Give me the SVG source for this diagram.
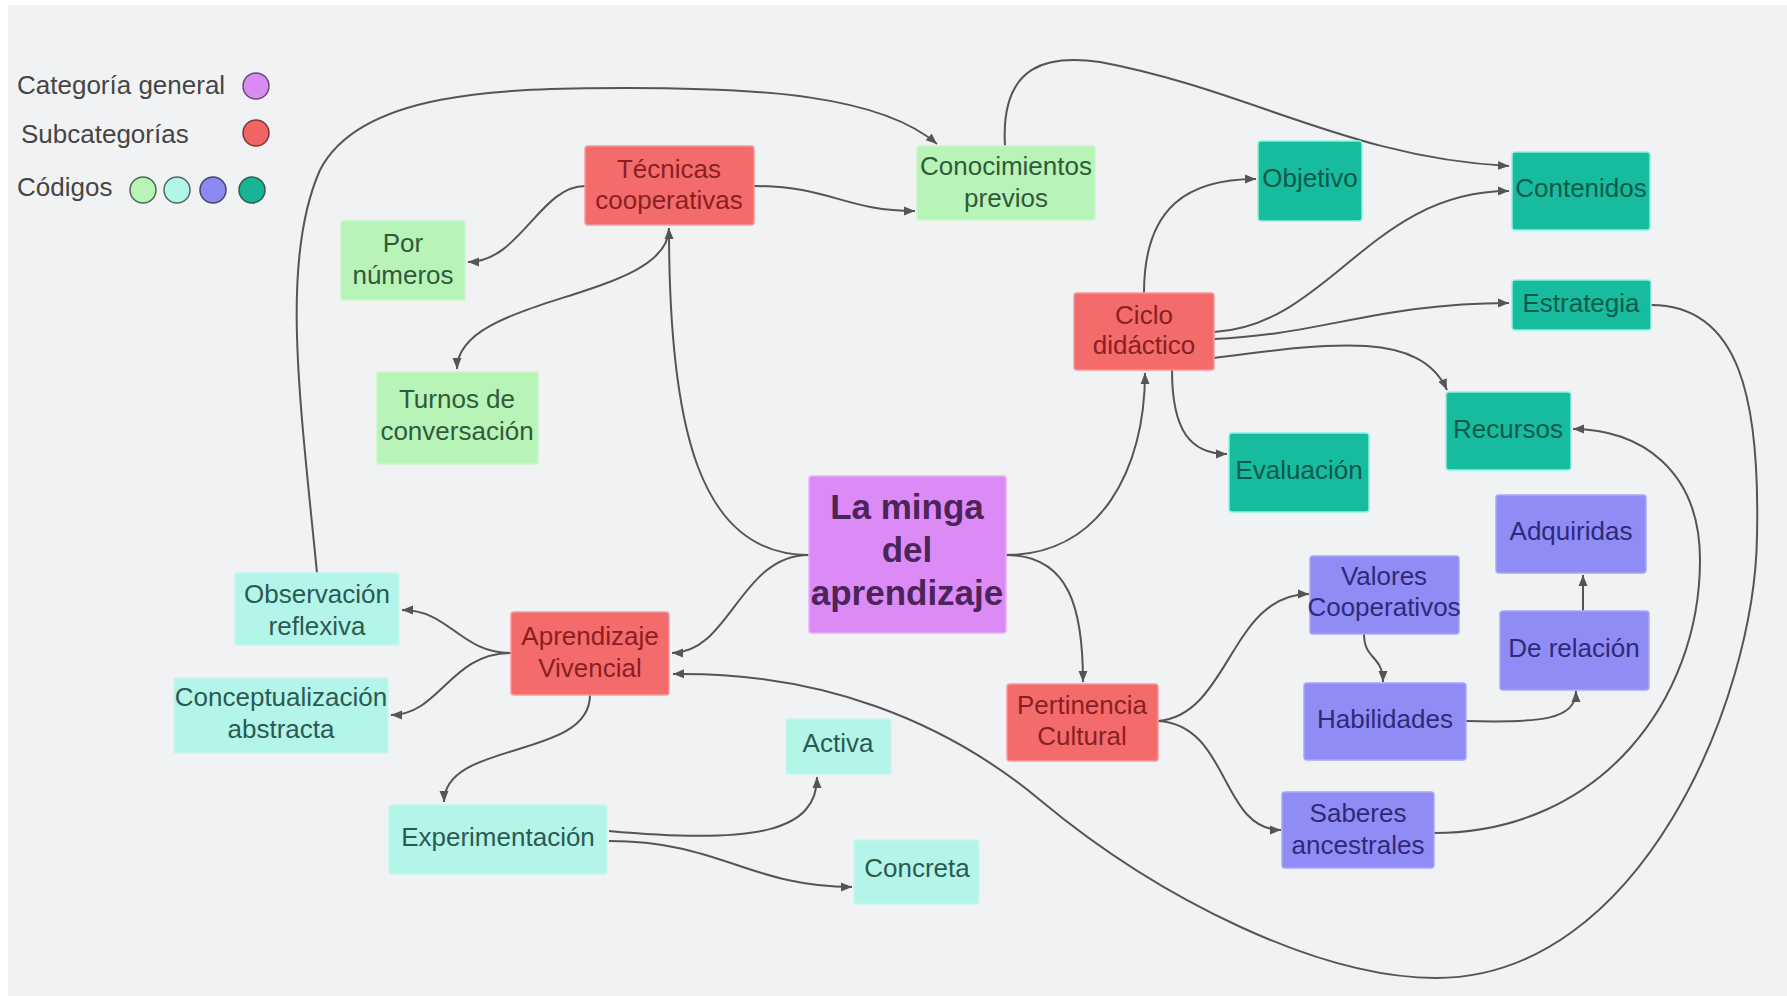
<svg xmlns="http://www.w3.org/2000/svg" width="1787" height="996" viewBox="0 0 1787 996">
<defs>
<marker id="ah" markerUnits="userSpaceOnUse" markerWidth="12" markerHeight="10" refX="11" refY="5" orient="auto">
<path d="M0,0.5 L11,5 L0,9.5 z" fill="#555"/>
</marker>
<style>
.bg{fill:#f1f2f4}
.lg{font-family:"Liberation Sans",Arial,sans-serif;font-size:26px;fill:#454545}
.t{font-family:"Liberation Sans",Arial,sans-serif;font-size:26px;text-anchor:middle}
.red rect{fill:#f46b6b;stroke:#f59a9a;stroke-width:1.5}
.red text{fill:#8a1f1f}
.grn rect{fill:#b8f3b8;stroke:#c8f7c8;stroke-width:1.5}
.grn text{fill:#2f5b3a}
.cyn rect{fill:#b3f5e8;stroke:#c4f8ee;stroke-width:1.5}
.cyn text{fill:#2b5a52}
.tea rect{fill:#17bb9e;stroke:#8ff2e2;stroke-width:1.5}
.tea text{fill:#0c5a4c}
.vio rect{fill:#8f8cf5;stroke:#a9a7f7;stroke-width:1.5}
.vio text{fill:#2e2a78}
.pur rect{fill:#dc8af6;stroke:#e8b0f9;stroke-width:1.5}
.pur text{fill:#4b2458;font-weight:bold;font-size:35px}
.c{fill:none;stroke:#555;stroke-width:2;marker-end:url(#ah)}
</style>
</defs>
<rect x="0" y="0" width="1787" height="996" fill="#ffffff"/>
<rect class="bg" x="8" y="5" width="1779" height="991"/>

<g id="legend">
<text class="lg" x="17" y="94">Categoría general</text>
<circle cx="256" cy="86" r="13" fill="#d98bf3" stroke="#6a4a73" stroke-width="1.5"/>
<text class="lg" x="21" y="143">Subcategorías</text>
<circle cx="256" cy="133" r="13" fill="#f06464" stroke="#7a3a3a" stroke-width="1.5"/>
<text class="lg" x="17" y="196">Códigos</text>
<circle cx="143" cy="190" r="13" fill="#b8f3b8" stroke="#4d6b4d" stroke-width="1.5"/>
<circle cx="177" cy="190" r="13" fill="#b3f5e8" stroke="#4d6b66" stroke-width="1.5"/>
<circle cx="213" cy="190" r="13" fill="#8c89f2" stroke="#46466e" stroke-width="1.5"/>
<circle cx="252" cy="190" r="13" fill="#17b596" stroke="#2d5e55" stroke-width="1.5"/>
</g>

<g id="connectors">
<path class="c" d="M809,555 C700,555 669,430 669,228"/>
<path class="c" d="M809,555 C740,555 730,653 672,653"/>
<path class="c" d="M1006,555 C1100,555 1145,470 1145,373"/>
<path class="c" d="M1006,555 C1070,555 1083,610 1083,682"/>
<path class="c" d="M585,186 C540,186 520,262 468,262"/>
<path class="c" d="M669,228 C669,300 457,295 457,369"/>
<path class="c" d="M754,186 C830,186 845,211 915,211"/>
<path class="c" d="M317,573 C300,400 280,260 320,170 C360,92 500,88 627,88 C760,88 880,95 937,144"/>
<path class="c" d="M1005,146 C1000,62 1050,55 1100,62 C1250,90 1350,158 1509,166"/>
<path class="c" d="M1144,293 C1144,205 1190,179 1256,179"/>
<path class="c" d="M1214,332 C1330,325 1370,191 1509,191"/>
<path class="c" d="M1214,339 C1320,335 1380,303 1509,303"/>
<path class="c" d="M1214,358 C1330,343 1420,330 1447,390"/>
<path class="c" d="M1172,370 C1172,430 1190,454 1227,454"/>
<path class="c" d="M1651,305 C1740,305 1760,400 1757,536 C1755,700 1640,978 1436,978 C1320,978 1160,900 1040,800 C944,720 820,672 673,674"/>
<path class="c" d="M511,653 C460,653 450,610 402,610"/>
<path class="c" d="M511,653 C450,653 440,715 391,715"/>
<path class="c" d="M590,695 C590,760 444,740 444,802"/>
<path class="c" d="M609,831 C760,845 817,830 817,777"/>
<path class="c" d="M609,841 C720,841 750,887 852,887"/>
<path class="c" d="M1158,721 C1230,715 1230,594 1309,594"/>
<path class="c" d="M1158,721 C1230,725 1220,830 1281,830"/>
<path class="c" d="M1364,634 C1364,660 1383,655 1383,682"/>
<path class="c" d="M1466,721 C1540,723 1576,720 1576,691"/>
<path class="c" d="M1583,611 L1583,575"/>
<path class="c" d="M1434,833 C1600,833 1700,700 1700,560 C1700,470 1640,429 1573,429"/>
</g>

<g id="n-tecnicas" class="red"><rect x="585" y="146" width="169" height="79" rx="3"/><text class="t" x="669" y="178">Técnicas</text><text class="t" x="669" y="209">cooperativas</text></g>
<g id="n-conocimientos" class="grn"><rect x="917" y="146" width="178" height="74" rx="3"/><text class="t" x="1006" y="175">Conocimientos</text><text class="t" x="1006" y="207">previos</text></g>
<g id="n-pornumeros" class="grn"><rect x="341" y="221" width="124" height="79" rx="2"/><text class="t" x="403" y="252">Por</text><text class="t" x="403" y="284">números</text></g>
<g id="n-turnos" class="grn"><rect x="377" y="372" width="161" height="92" rx="2"/><text class="t" x="457" y="408">Turnos de</text><text class="t" x="457" y="440">conversación</text></g>
<g id="n-objetivo" class="tea"><rect x="1258" y="141" width="104" height="80" rx="3"/><text class="t" x="1310" y="187">Objetivo</text></g>
<g id="n-contenidos" class="tea"><rect x="1512" y="152" width="138" height="78" rx="3"/><text class="t" x="1581" y="197">Contenidos</text></g>
<g id="n-estrategia" class="tea"><rect x="1512" y="280" width="139" height="50" rx="3"/><text class="t" x="1581" y="312">Estrategia</text></g>
<g id="n-ciclo" class="red"><rect x="1074" y="293" width="140" height="77" rx="3"/><text class="t" x="1144" y="324">Ciclo</text><text class="t" x="1144" y="354">didáctico</text></g>
<g id="n-recursos" class="tea"><rect x="1446" y="392" width="125" height="78" rx="3"/><text class="t" x="1508" y="438">Recursos</text></g>
<g id="n-evaluacion" class="tea"><rect x="1229" y="433" width="140" height="79" rx="3"/><text class="t" x="1299" y="479">Evaluación</text></g>
<g id="n-minga" class="pur"><rect x="809" y="476" width="197" height="157" rx="3"/><text class="t" x="907" y="519">La minga</text><text class="t" x="907" y="562">del</text><text class="t" x="907" y="605">aprendizaje</text></g>
<g id="n-aprendizaje" class="red"><rect x="511" y="612" width="158" height="83" rx="3"/><text class="t" x="590" y="645">Aprendizaje</text><text class="t" x="590" y="677">Vivencial</text></g>
<g id="n-observacion" class="cyn"><rect x="235" y="573" width="164" height="72" rx="2"/><text class="t" x="317" y="603">Observación</text><text class="t" x="317" y="635">reflexiva</text></g>
<g id="n-conceptualizacion" class="cyn"><rect x="174" y="678" width="214" height="75" rx="2"/><text class="t" x="281" y="706">Conceptualización</text><text class="t" x="281" y="738">abstracta</text></g>
<g id="n-experimentacion" class="cyn"><rect x="389" y="805" width="218" height="69" rx="2"/><text class="t" x="498" y="846">Experimentación</text></g>
<g id="n-activa" class="cyn"><rect x="786" y="719" width="105" height="55" rx="2"/><text class="t" x="838" y="752">Activa</text></g>
<g id="n-concreta" class="cyn"><rect x="854" y="840" width="125" height="64" rx="2"/><text class="t" x="917" y="877">Concreta</text></g>
<g id="n-pertinencia" class="red"><rect x="1007" y="684" width="151" height="77" rx="3"/><text class="t" x="1082" y="714">Pertinencia</text><text class="t" x="1082" y="745">Cultural</text></g>
<g id="n-valores" class="vio"><rect x="1310" y="556" width="149" height="78" rx="3"/><text class="t" x="1384" y="585">Valores</text><text class="t" x="1384" y="616">Cooperativos</text></g>
<g id="n-habilidades" class="vio"><rect x="1304" y="683" width="162" height="77" rx="3"/><text class="t" x="1385" y="728">Habilidades</text></g>
<g id="n-saberes" class="vio"><rect x="1282" y="792" width="152" height="76" rx="3"/><text class="t" x="1358" y="822">Saberes</text><text class="t" x="1358" y="854">ancestrales</text></g>
<g id="n-adquiridas" class="vio"><rect x="1496" y="495" width="150" height="78" rx="3"/><text class="t" x="1571" y="540">Adquiridas</text></g>
<g id="n-derelacion" class="vio"><rect x="1500" y="611" width="149" height="79" rx="3"/><text class="t" x="1574" y="657">De relación</text></g>
</svg>
